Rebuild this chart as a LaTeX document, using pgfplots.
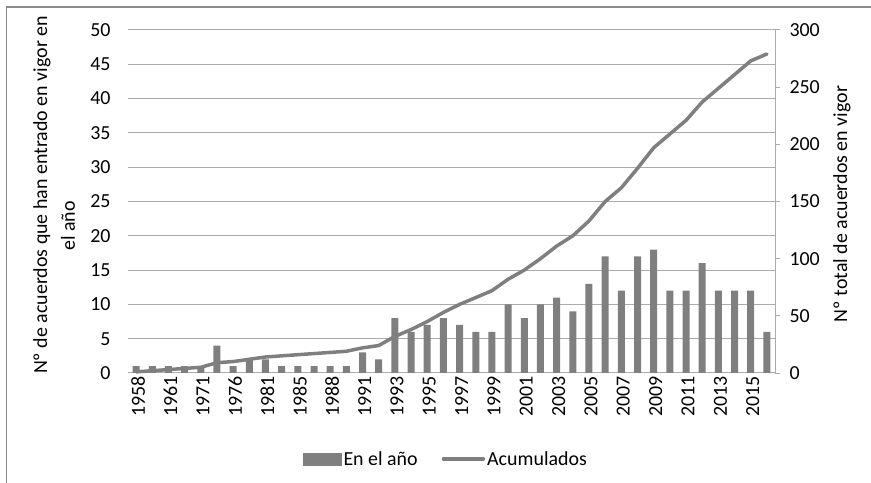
\documentclass[border=0pt]{standalone}
\usepackage{pgfplots}
\pgfplotsset{compat=1.18}
\usepackage{pgfplotstable}
\usepackage{fontspec}
\setmainfont{Carlito}
\definecolor{bargray}{HTML}{7F7F7F}
\definecolor{linegray}{HTML}{7F7F7F}
\definecolor{gridgray}{HTML}{ABABAB}
\definecolor{framegray}{HTML}{8C8C8C}
\pgfplotstableread{
idx anio acum
0 1 1
1 1 2
2 1 3
3 1 4
4 1 5
5 4 9
6 1 10
7 2 12
8 2 14
9 1 15
10 1 16
11 1 17
12 1 18
13 1 19
14 3 22
15 2 24
16 8 32
17 6 38
18 7 45
19 8 53
20 7 60
21 6 66
22 6 72
23 10 82
24 8 90
25 10 100
26 11 111
27 9 120
28 13 133
29 17 150
30 12 162
31 17 179
32 18 197
33 12 209
34 12 221
35 16 237
36 12 249
37 12 261
38 12 273
39 6 279
}\datatable
\begin{document}
\begin{tikzpicture}
\path[use as bounding box] (0bp,0bp) rectangle (871bp,483bp);
\draw[framegray, line width=1.5bp] (6.5bp,0bp) -- (6.5bp,476bp) -- (871bp,476bp);
\begin{axis}[
  at={(128bp,110bp)}, anchor=south west,
  scale only axis, width=647bp, height=343bp,
  xmin=-0.5, xmax=39.5, ymin=0, ymax=50,
  ytick={0,5,...,50},
  xtick={0,2,...,38},
  xticklabels={1958,1961,1971,1976,1981,1985,1988,1991,1993,1995,1997,1999,2001,2003,2005,2007,2009,2011,2013,2015},
  axis y line*=left, axis x line*=bottom,
  y axis line style={draw=none},
  x axis line style={gridgray, line width=1bp},
  major tick length=0pt,
  ymajorgrids, grid style={gridgray, line width=1bp},
  /pgf/number format/assume math mode=true,
  tick label style={font=\fontsize{20}{22}\selectfont},
  yticklabel style={xshift=-14bp},
  xticklabel style={rotate=90, anchor=east, yshift=-2bp},
  clip=false,
]
\addplot[ybar, bar width=7bp, fill=bargray, draw=none] table[x=idx, y=anio] {\datatable};
\end{axis}
\begin{axis}[
  at={(128bp,110bp)}, anchor=south west,
  scale only axis, width=647bp, height=343bp,
  xmin=-0.5, xmax=39.5, ymin=0, ymax=300,
  ytick={0,50,...,300},
  axis y line*=right, axis x line=none,
  y axis line style={gridgray, line width=1bp},
  ytick style={gridgray, line width=1bp},
  tick align=outside, major tick length=5bp,
  /pgf/number format/assume math mode=true,
  tick label style={font=\fontsize{20}{22}\selectfont},
  yticklabel style={xshift=6bp},
  legend columns=2,
  legend style={draw=none, fill=none, font=\fontsize{20}{22}\selectfont,
    at={(0.4915,-0.2507)}, anchor=center,
    /tikz/every even column/.append style={column sep=22bp}},
  clip=false,
]
\addlegendimage{legend image code/.code={\fill[bargray] (0bp,-6bp) rectangle (38bp,6bp);}}
\addlegendentry{En el año}
\addplot[linegray, line width=3.5bp, line join=round, line cap=round, legend image code/.code={\draw[linegray, line width=3.5bp] (0bp,0bp) -- (40bp,0bp);}] table[x=idx, y=acum] {\datatable};
\addlegendentry{Acumulados}
\end{axis}
\node[rotate=90, font=\fontsize{20}{22}\selectfont] at (42bp,288bp) {Nº de acuerdos que han entrado en vigor en};
\node[rotate=90, font=\fontsize{20}{22}\selectfont] at (68bp,257bp) {el año};
\node[rotate=90, font=\fontsize{20}{22}\selectfont] at (842bp,279bp) {Nº total de acuerdos en vigor};
\end{tikzpicture}
\end{document}
